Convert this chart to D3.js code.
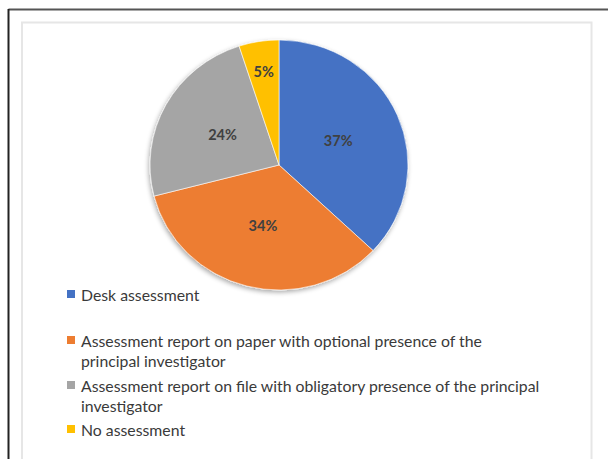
<!DOCTYPE html>
<html>
<head>
<meta charset="utf-8">
<script src="https://cdn.jsdelivr.net/npm/d3@7/dist/d3.min.js"></script>
<style>
  html, body { margin: 0; padding: 0; background: #fff; }
  svg { display: block; }
</style>
</head>
<body>
<svg id="chart" width="608" height="459"></svg>
<script>
// Assessment modes (share of cases)
const categories = [
  "Desk assessment",
  "Assessment report on paper with optional presence of the principal investigator",
  "Assessment report on file with obligatory presence of the principal investigator",
  "No assessment"
];
const values = [37, 34, 24, 5];
const legendLines = [
  ["Desk assessment"],
  ["Assessment report on paper with optional presence of the", "principal investigator"],
  ["Assessment report on file with obligatory presence of the principal", "investigator"],
  ["No assessment"]
];
const colors = ["#4472C4", "#ED7D31", "#A5A5A5", "#FFC000"];

const svg = d3.select("#chart");
const W = 608, H = 459;

// outer frame (top and left edges)
svg.append("line").attr("x1", 8.5).attr("x2", W).attr("y1", 9.5).attr("y2", 9.5)
  .attr("stroke", "#555").attr("stroke-width", 2);
svg.append("line").attr("x1", 8.5).attr("x2", 8.5).attr("y1", 9).attr("y2", H)
  .attr("stroke", "#222").attr("stroke-width", 2);

// chart area border
svg.append("rect").attr("x", 22).attr("y", 22.5).attr("width", 569.5).attr("height", H)
  .attr("fill", "#fff").attr("stroke", "#e6e6e6").attr("stroke-width", 2);

const defs = svg.append("defs");
const shadow = defs.append("filter").attr("id", "shadow")
  .attr("x", "-20%").attr("y", "-20%").attr("width", "140%").attr("height", "140%");
shadow.append("feGaussianBlur").attr("in", "SourceAlpha").attr("stdDeviation", 2.5);
shadow.append("feOffset").attr("dx", -1).attr("dy", 2.5).attr("result", "b");
shadow.append("feComponentTransfer").append("feFuncA").attr("type", "linear").attr("slope", 0.35);
const merge = shadow.append("feMerge");
merge.append("feMergeNode");
merge.append("feMergeNode").attr("in", "SourceGraphic");

const cx = 279, cy = 165, R = 129, yScale = 125 / 129;

const pie = d3.pie().sort(null).value(d => d);
const arcs = pie(values);
const arc = d3.arc().innerRadius(0).outerRadius(R);
// narrow slices get their label pushed toward the rim
const labelArc = d => {
  const span = d.endAngle - d.startAngle;
  const r = span < 0.5 ? R * 0.76 : R * 0.5;
  return d3.arc().innerRadius(r).outerRadius(r).centroid(d);
};

const g = svg.append("g")
  .attr("transform", `translate(${cx},${cy}) scale(1,${yScale})`);

g.append("g").attr("filter", "url(#shadow)")
  .selectAll("path").data(arcs).enter().append("path")
  .attr("d", arc)
  .attr("fill", (d, i) => colors[i])
  .attr("stroke", "#fff").attr("stroke-width", 1).attr("stroke-opacity", 0.6);

// percentage labels
svg.append("g").selectAll("text").data(arcs).enter().append("text")
  .attr("x", d => cx + labelArc(d)[0])
  .attr("y", d => cy + labelArc(d)[1] * yScale)
  .attr("text-anchor", "middle")
  .attr("dominant-baseline", "central")
  .attr("font-family", "Lato, 'Open Sans', sans-serif")
  .attr("font-weight", "bold")
  .attr("font-size", 14.5)
  .attr("fill", "#404040")
  .text(d => d.value + "%");

// legend
const rowY = [294, 340, 385, 429];
const legend = svg.append("g");
legendLines.forEach((lines, i) => {
  legend.append("rect").attr("x", 67).attr("y", rowY[i] - 4).attr("width", 8).attr("height", 8)
    .attr("fill", colors[i]);
  lines.forEach((t, j) => {
    legend.append("text")
      .attr("x", 81).attr("y", rowY[i] + j * 20)
      .attr("dominant-baseline", "central")
      .attr("font-family", "Lato, 'Open Sans', sans-serif")
      .attr("font-size", 15.8)
      .attr("fill", "#3a3a3a")
      .text(t);
  });
});
</script>
</body>
</html>
